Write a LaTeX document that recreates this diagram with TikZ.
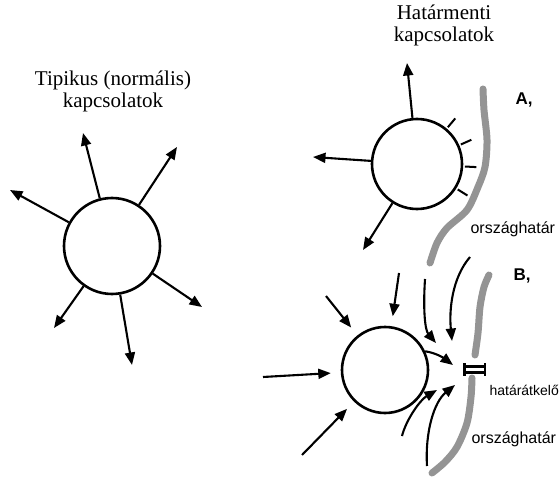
\documentclass[tikz,border=0pt]{standalone}
\usepackage{fontspec}
\setmainfont{Liberation Serif}
\setsansfont{Liberation Sans}
\usetikzlibrary{arrows.meta,calc}
\begin{document}
\begin{tikzpicture}[x=1pt,y=-1pt,
  arr/.style={line width=2.1pt,-{Triangle[length=12.5pt,width=10pt]}},
  town/.style={circle,draw,line width=2.6pt,inner sep=0pt,fill=white},
  border/.style={line width=7pt,black!42,line cap=round},
  tickmark/.style={line width=2pt},
  title/.style={font=\fontsize{21}{22.5}\selectfont,align=center},
  lab/.style={font=\sffamily\fontsize{16}{18}\selectfont,anchor=base west},
  blab/.style={font=\sffamily\bfseries\fontsize{17}{18}\selectfont,anchor=base west}]

\useasboundingbox (0,0) rectangle (559,478);

% titles
\node[title,anchor=base] (t1) at (113,108) {Tipikus (normális)\\kapcsolatok};
\node[title,anchor=base] (t2) at (444,42) {Határmenti\\kapcsolatok};

% left: typical
\node[town,minimum size=96pt] (L) at (112,246) {};
\coordinate (La) at (83,133);
\coordinate (Lb) at (177,147);
\coordinate (Lc) at (10,190);
\coordinate (Ld) at (202,307);
\coordinate (Le) at (54,328);
\coordinate (Lf) at (132,365);
\foreach \t in {La,Lb,Lc,Ld,Le,Lf} \draw[arr] (L) -- (\t);

% A: border
\draw[border] plot[smooth] coordinates {(483,89) (484,110) (487,140) (485,167) (478,187) (467,210) (447,228) (437,243) (430,263)};
\node[town,minimum size=90pt] (A) at (417,164) {};
\coordinate (Aa) at (407,63);
\coordinate (Ab) at (313,157);
\coordinate (Ac) at (363,250);
\foreach \t in {Aa,Ab,Ac} \draw[arr] (A) -- (\t);
\foreach \ang in {50,24,-3,-32}
  \draw[tickmark] ($(A.center)+(-\ang:48)$) -- ($(A.center)+(-\ang:59.5)$);

\node[blab] (lA) at (512,105) {A,};
\node[lab] (o1) at (467,234) {országhatár};

% B: border crossing
\draw[border] plot[smooth] coordinates {(489,275) (484,287) (480,307) (478,333) (475,355)};
\draw[border] plot[smooth] coordinates {(472,378) (471,397) (467,423) (457,447) (445,462) (432,473)};

\node[town,minimum size=86pt] (B) at (385,370) {};
\coordinate (Ba) at (263,377);
\coordinate (Bb) at (326,296);
\coordinate (Bc) at (302,455);
\coordinate (Bd) at (399,273);
\foreach \s in {Ba,Bb,Bc,Bd} \draw[arr,shorten >=10pt] (\s) -- (B);

\coordinate (X) at (475,369);
\begin{scope}[shift={(X)}]
  \draw[line width=3pt] (-11,-2.2) -- (10,-2.2) (-11,3.6) -- (10,3.6);
  \draw[line width=2.8pt] (-10.5,-6) -- (-10.5,7) (10,-6) -- (10,7);
\end{scope}

\coordinate (k0) at (453,365);
\coordinate (s1) at (425,279);
\coordinate (k1) at (436,343);
\coordinate (s2) at (470,257);
\coordinate (k2) at (452,341);
\coordinate (s3) at (402,436);
\coordinate (k3) at (437,390);
\coordinate (s4) at (427,466);
\coordinate (k4) at (455,385);
\draw[arr] (B.25) .. controls (437,353) and (445,359) .. (k0);
\draw[arr] (s1) .. controls (423,310) and (425,330) .. (k1);
\draw[arr] (s2) .. controls (452,278) and (449,310) .. (k2);
\draw[arr] (s3) .. controls (406,420) and (420,400) .. (k3);
\draw[arr] (s4) .. controls (425,432) and (434,402) .. (k4);

\node[blab] (lB) at (510,280) {B,};
\node[lab,font=\sffamily\fontsize{14}{16}\selectfont] (hk) at (486,395) {határátkelő};
\node[lab] (o2) at (468,443) {országhatár};
\end{tikzpicture}
\end{document}
